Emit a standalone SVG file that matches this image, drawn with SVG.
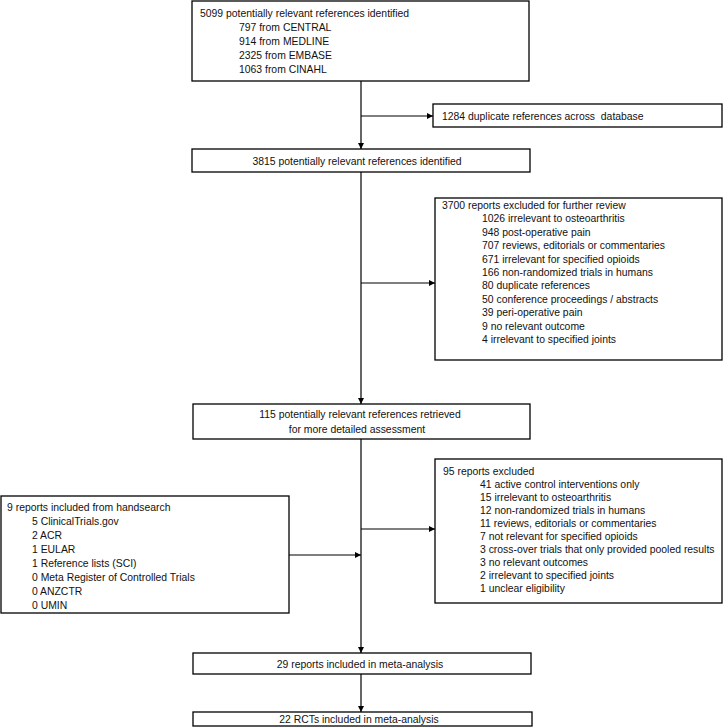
<svg xmlns="http://www.w3.org/2000/svg" width="725" height="728" viewBox="0 0 725 728">
<style>
rect.box{fill:#fff;stroke:#000;stroke-width:1.3}
text{font-family:"Liberation Sans",Arial,sans-serif;font-size:10.4px;fill:#111;white-space:pre}
.c{text-anchor:middle}
.ln{stroke:#000;stroke-width:1.2;fill:none}
</style>
<defs>
<marker id="ah" viewBox="0 0 10 10" refX="10" refY="5" markerWidth="6" markerHeight="6" markerUnits="userSpaceOnUse" orient="auto">
<path d="M0,0L10,5L0,10z" fill="#000"/>
</marker>
</defs>
<rect width="725" height="728" fill="#fff"/>
<g id="connectors">
<line class="ln" x1="361" y1="81" x2="361" y2="149" marker-end="url(#ah)"/>
<line class="ln" x1="361" y1="116" x2="433" y2="116" marker-end="url(#ah)"/>
<line class="ln" x1="361" y1="172" x2="361" y2="404" marker-end="url(#ah)"/>
<line class="ln" x1="361" y1="283" x2="435" y2="283" marker-end="url(#ah)"/>
<line class="ln" x1="361" y1="439" x2="361" y2="653" marker-end="url(#ah)"/>
<line class="ln" x1="361" y1="529" x2="435" y2="529" marker-end="url(#ah)"/>
<line class="ln" x1="289" y1="555" x2="361" y2="555" marker-end="url(#ah)"/>
<line class="ln" x1="361" y1="674" x2="361" y2="712" marker-end="url(#ah)"/>
</g>
<g id="identified">
<rect class="box" x="192" y="1" width="337" height="80"/>
<text x="200" y="16.5">5099 potentially relevant references identified</text>
<text x="239" y="30.5">797 from CENTRAL</text>
<text x="239" y="44.5">914 from MEDLINE</text>
<text x="239" y="58.5">2325 from EMBASE</text>
<text x="239" y="72.5">1063 from CINAHL</text>
</g>
<g id="duplicates">
<rect class="box" x="433" y="104" width="289" height="23"/>
<text x="442" y="119.5">1284 duplicate references across  database</text>
</g>
<g id="screened">
<rect class="box" x="192" y="149" width="338" height="23"/>
<text class="c" x="357" y="164.5">3815 potentially relevant references identified</text>
</g>
<g id="excluded1">
<rect class="box" x="435" y="198" width="287" height="162"/>
<text x="442" y="209">3700 reports excluded for further review</text>
<text x="482" y="222.4">1026 irrelevant to osteoarthritis</text>
<text x="482" y="235.8">948 post-operative pain</text>
<text x="482" y="249.2">707 reviews, editorials or commentaries</text>
<text x="482" y="262.6">671 irrelevant for specified opioids</text>
<text x="482" y="276">166 non-randomized trials in humans</text>
<text x="482" y="289.4">80 duplicate references</text>
<text x="482" y="302.8">50 conference proceedings / abstracts</text>
<text x="482" y="316.2">39 peri-operative pain</text>
<text x="482" y="329.6">9 no relevant outcome</text>
<text x="482" y="343">4 irrelevant to specified joints</text>
</g>
<g id="retrieved">
<rect class="box" x="193" y="404" width="337" height="35"/>
<text class="c" x="360" y="418">115 potentially relevant references retrieved</text>
<text class="c" x="357" y="432.5">for more detailed assessment</text>
</g>
<g id="handsearch">
<rect class="box" x="1" y="496" width="288" height="117"/>
<text x="7" y="511">9 reports included from handsearch</text>
<text x="32" y="525">5 ClinicalTrials.gov</text>
<text x="32" y="539">2 ACR</text>
<text x="32" y="553">1 EULAR</text>
<text x="32" y="567">1 Reference lists (SCI)</text>
<text x="32" y="581">0 Meta Register of Controlled Trials</text>
<text x="32" y="595">0 ANZCTR</text>
<text x="32" y="609">0 UMIN</text>
</g>
<g id="excluded2">
<rect class="box" x="435" y="459" width="287" height="144"/>
<text x="443" y="474.5">95 reports excluded</text>
<text x="480" y="487.5">41 active control interventions only</text>
<text x="480" y="500.5">15 irrelevant to osteoarthritis</text>
<text x="480" y="513.5">12 non-randomized trials in humans</text>
<text x="480" y="526.5">11 reviews, editorials or commentaries</text>
<text x="480" y="539.5">7 not relevant for specified opioids</text>
<text x="480" y="552.5">3 cross-over trials that only provided pooled results</text>
<text x="480" y="565.5">3 no relevant outcomes</text>
<text x="480" y="578.5">2 irrelevant to specified joints</text>
<text x="480" y="591.5">1 unclear eligibility</text>
</g>
<g id="included">
<rect class="box" x="193" y="653" width="338" height="21"/>
<text class="c" x="360" y="667.5">29 reports included in meta-analysis</text>
</g>
<g id="rcts">
<rect class="box" x="193" y="712" width="339" height="14"/>
<text class="c" x="359" y="722.5">22 RCTs included in meta-analysis</text>
</g>
</svg>
